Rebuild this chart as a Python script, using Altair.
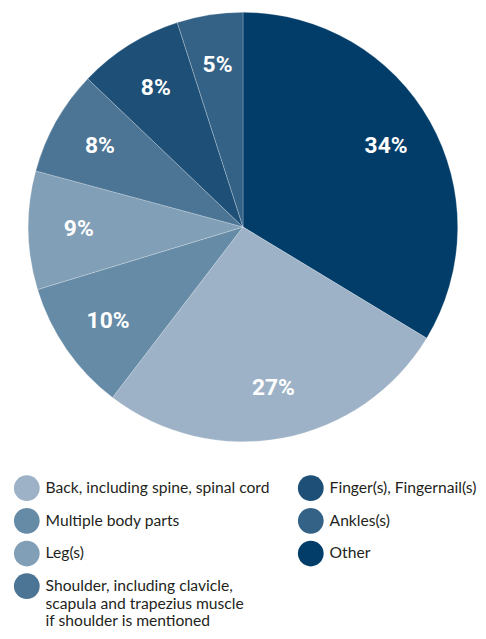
import altair as alt
import pandas as pd

categories = [
    "Other",
    "Back, including spine, spinal cord",
    "Multiple body parts",
    "Leg(s)",
    "Shoulder, including clavicle,\nscapula and trapezius muscle\nif shoulder is mentioned",
    "Finger(s), Fingernail(s)",
    "Ankles(s)",
]
values = [34, 27, 10, 9, 8, 8, 5]
labels = ["34%", "27%", "10%", "9%", "8%", "8%", "5%"]
slice_order = [0, 1, 2, 3, 4, 5, 6]
colors = ["#023d69", "#9db2c6", "#668ba6", "#819fb6", "#4c7595", "#1d4f77", "#346286"]

# legend order (column-wise in 2 columns)
legend_order = [1, 2, 3, 4, 5, 6, 0]
legend_domain = [categories[i] for i in legend_order]
legend_range = [colors[i] for i in legend_order]

df = pd.DataFrame({
    "category": categories,
    "value": values,
    "label": labels,
    "ord": slice_order,
})


def build(with_encode):
    base = alt.Chart(df).encode(
        theta=alt.Theta("value:Q", stack=True),
        order=alt.Order("ord:Q", sort="ascending"),
    )
    legend_kwargs = dict(
        title=None,
        orient="none",
        legendX=6,
        legendY=469,
        columns=2,
        columnPadding=28,
        rowPadding=7,
        symbolType="circle",
        symbolSize=676,
        symbolStrokeWidth=0,
        symbolOpacity=1,
        labelFont="Lato",
        labelFontSize=15.8,
        labelColor="#231f20",
        labelOffset=6,
        labelLimit=400,
        labelExpr="split(datum.label, '\\n')",
        padding=0,
    )
    if with_encode:
        legend_kwargs["encode"] = {"labels": {"update": {"lineHeight": {"value": 19}}}}
    pie = base.mark_arc(radius=217, stroke="#ffffff", strokeWidth=0.4, strokeOpacity=0.6).encode(
        color=alt.Color(
            "category:N",
            scale=alt.Scale(domain=legend_domain, range=legend_range),
            legend=alt.Legend(**legend_kwargs),
        )
    )
    text = base.mark_text(
        radius=166,
        font="Roboto",
        fontWeight="bold",
        fontSize=23,
        color="#ffffff",
        align="center",
        baseline="middle",
    ).encode(text="label:N")
    return (
        alt.layer(pie, text)
        .properties(width=475, height=436, padding=0)
        .configure_view(stroke=None)
    )


try:
    chart = build(True)
    chart.to_dict()
except Exception:
    chart = build(False)

chart.save("out.html", embed_options={"renderer": "svg", "actions": False})
